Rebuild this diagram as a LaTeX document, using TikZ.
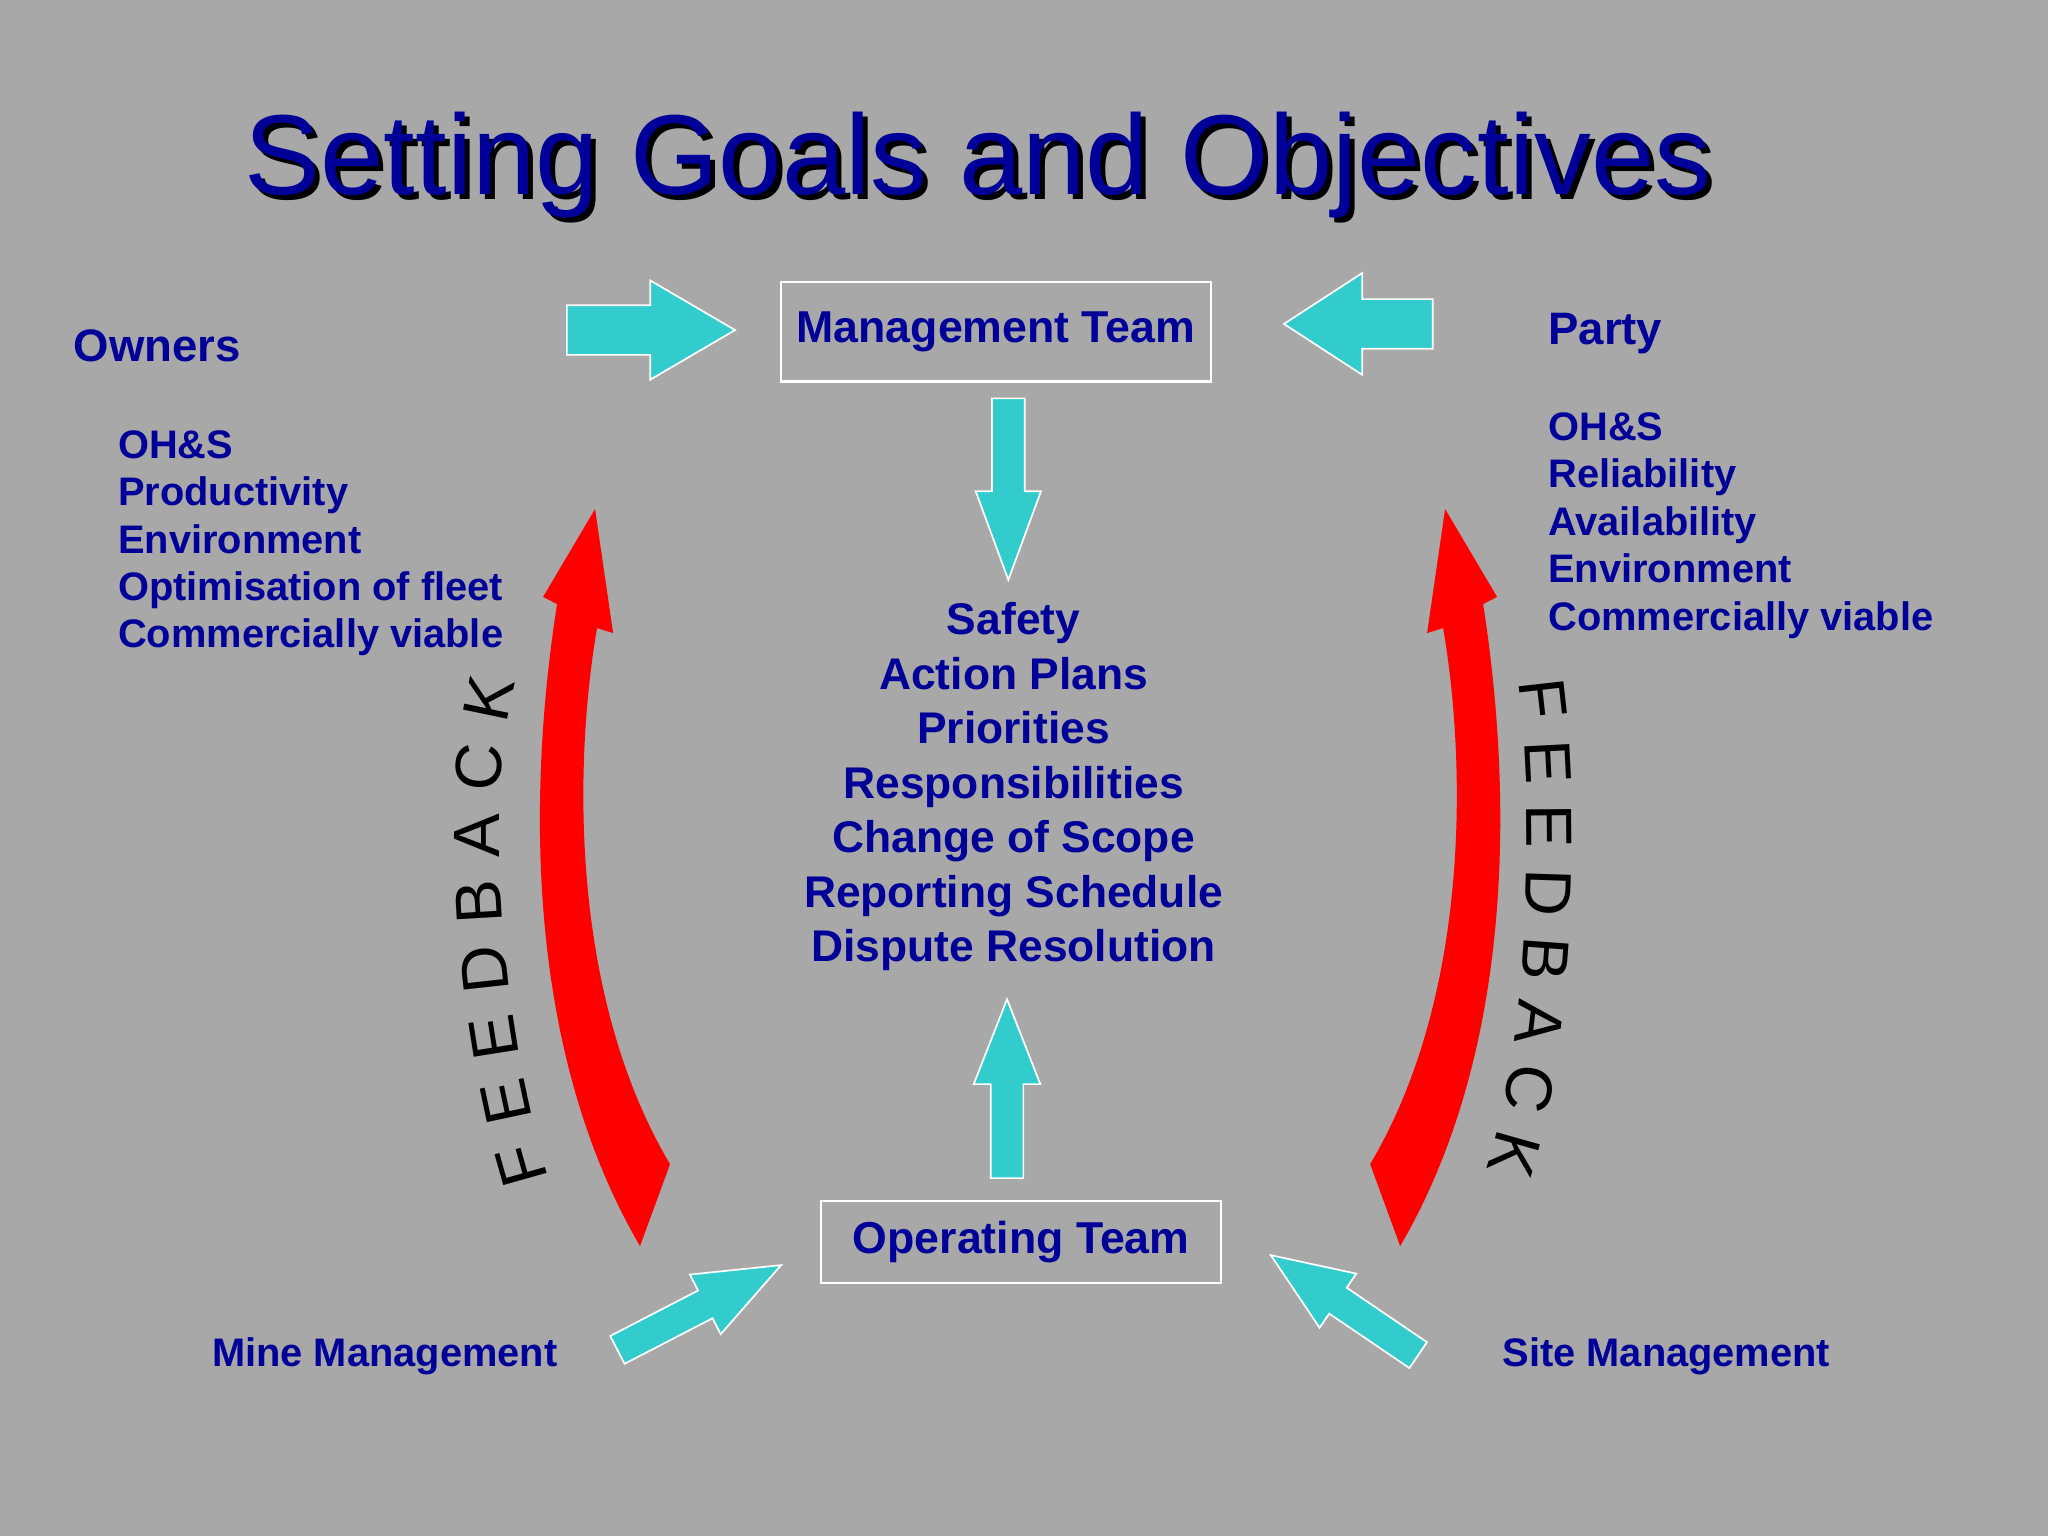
\documentclass[tikz,border=0pt]{standalone}
\usepackage{fontspec}
\setmainfont{Liberation Sans}
\usetikzlibrary{calc,decorations.text}
\definecolor{bg}{HTML}{A8A8A8}
\definecolor{navy}{HTML}{000099}
\definecolor{cyanarr}{HTML}{33CCCC}
\definecolor{redarr}{HTML}{FF0000}
\newcommand\fbfont{\color{black}\fontsize{23}{27}\selectfont}
\newcommand\titletext{Setting Goals and Objectives}
\newcommand\blockarrow[5]{%
  \coordinate (#1#2hb) at ($(#2)!#5!(#1)$);
  \path[arr] ($(#1)!#3!90:(#2)$) -- ($(#1#2hb)!#3!90:(#2)$) -- ($(#1#2hb)!#4!90:(#2)$) -- (#2)
     -- ($(#1#2hb)!#4!-90:(#2)$) -- ($(#1#2hb)!#3!-90:(#2)$) -- ($(#1)!#3!-90:(#2)$) -- cycle;}
\begin{document}
\begin{tikzpicture}[x=0.4592pt,y=-0.4592pt,
  titlefont/.style={font=\fontsize{40}{48}\selectfont, inner sep=0pt, anchor=base},
  lbl/.style={text=navy, font=\bfseries\fontsize{15.7}{18.8}\selectfont, inner sep=0pt},
  item/.style={text=navy, font=\bfseries\fontsize{14}{16.62}\selectfont, inner sep=0pt},
  box/.style={draw=white, line width=0.8pt, inner sep=0pt, text=navy, font=\bfseries\fontsize{15.7}{18.8}\selectfont},
  arr/.style={fill=cyanarr, draw=white, line width=0.6pt, line join=miter},
  fbtext/.style={decorate, decoration={text along path, text={|\fbfont|FEEDBACK}, text align={fit to path}}}]
\useasboundingbox (0,0) rectangle (1568,1176);
\fill[bg] (0,0) rectangle (1568,1176);

% title with drop shadow (one node)
\node[titlefont, text=navy] (title) at (749,149)
  {\rlap{\hspace{1.8pt}\raisebox{-1.8pt}{\color{black}\titletext}}\titletext};

% boxes
\node[box, minimum width=151pt, minimum height=34.9pt] (mgmt) at (762.5,254) {Management Team};
\node[box, minimum width=140.7pt, minimum height=28.8pt] (oper) at (781.8,951) {Operating Team};

% side texts
\node[lbl, anchor=base west, font=\bfseries\fontsize{16}{19}\selectfont] (owners) at (56,277) {Owners};
\node[item, anchor=base west] (ownlist) at (90,351) {\parbox[t]{220pt}{\raggedright OH\&S\\Productivity\\Environment\\Optimisation of fleet\\Commercially viable}};
\node[lbl, anchor=base west, font=\bfseries\fontsize{16}{19}\selectfont] (party) at (1185,264) {Party};
\node[item, anchor=base west, font=\bfseries\fontsize{14}{16.69}\selectfont] (partylist) at (1185,337) {\parbox[t]{220pt}{\raggedright OH\&S\\Reliability\\Availability\\Environment\\Commercially viable}};
\node[lbl, anchor=base, font=\bfseries\fontsize{15.6}{19.15}\selectfont] (centre) at (776,486) {\parbox[t]{240pt}{\centering Safety\\Action Plans\\Priorities\\Responsibilities\\Change of Scope\\Reporting Schedule\\Dispute Resolution}};
\node[item, anchor=base west] (mine) at (162,1046.5) {Mine Management};
\node[item, anchor=base west] (site) at (1150,1046.5) {Site Management};

% cyan block arrows
\coordinate (o1t) at (434,252.7); \coordinate (o1h) at (562.8,252.7);
\coordinate (p1t) at (1097,248);  \coordinate (p1h) at (983,248);
\coordinate (dt) at (772,305);    \coordinate (dh) at (772,444);
\coordinate (ut) at (771,902);    \coordinate (uh) at (771,765);
\coordinate (mt) at (472.7,1033.5); \coordinate (mh) at (598,968.6);
\coordinate (st) at (1085.8,1037.5); \coordinate (sh) at (973,961);
\blockarrow{o1t}{o1h}{8.72pt}{17.45pt}{29.85pt}
\blockarrow{p1t}{p1h}{8.72pt}{17.9pt}{27.55pt}
\blockarrow{dt}{dh}{5.74pt}{11.48pt}{31.2pt}
\blockarrow{ut}{uh}{5.74pt}{11.7pt}{29.85pt}
\blockarrow{mt}{mh}{5.5pt}{11.8pt}{30pt}
\blockarrow{st}{sh}{5.5pt}{11.5pt}{28.5pt}

% red curved feedback arrows
\fill[redarr] (490,954) .. controls (400,800) and (405,600) .. (426.5,462.5) -- (415.8,457) -- (455.6,389.7)
   -- (469.4,484.7) -- (457.1,480.9) .. controls (440,580) and (435,760) .. (513,891.3) -- cycle;
\begin{scope}[shift={(1562,0)}, xscale=-1]
\fill[redarr] (490,954) .. controls (400,800) and (405,600) .. (426.5,462.5) -- (415.8,457) -- (455.6,389.7)
   -- (469.4,484.7) -- (457.1,480.9) .. controls (440,580) and (435,760) .. (513,891.3) -- cycle;
\end{scope}

% FEEDBACK labels along curves
\path[fbtext] (420,902) .. controls (388,800) and (368,620) .. (395,522);
\path[fbtext] (1162,522) .. controls (1176,620) and (1170,800) .. (1138,895);
\end{tikzpicture}
\end{document}
